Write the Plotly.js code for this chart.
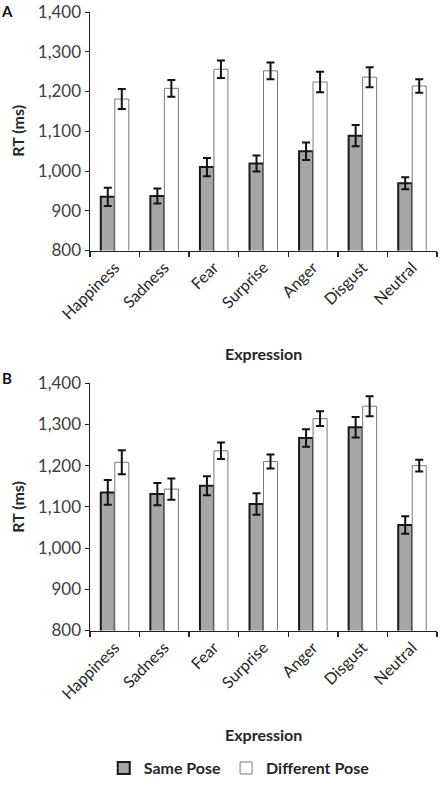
<!DOCTYPE html>
<html>
<head>
<meta charset="utf-8">
<script src="https://cdn.plot.ly/plotly-3.0.1.min.js"></script>
<style>html,body{margin:0;padding:0;background:#fff;}#chart{width:441px;height:789px;}</style>
</head>
<body>
<div id="chart"></div>
<script>
const categories = ["Happiness","Sadness","Fear","Surprise","Anger","Disgust","Neutral"];
const yTicks = [800,900,1000,1100,1200,1300,1400];
const yTickLabels = ["800","900","1,000","1,100","1,200","1,300","1,400"];

// Panel A
const aSame = [935, 937, 1010, 1019, 1050, 1089, 969];
const aSameErr = [23, 19, 23, 20, 22, 27, 15];
const aDiff = [1181, 1208, 1256, 1252, 1224, 1236, 1214];
const aDiffErr = [25, 21, 22, 21, 26, 25, 17];

// Panel B
const bSame = [1135, 1131, 1151, 1107, 1267, 1293, 1056];
const bSameErr = [30, 27, 23, 26, 21, 25, 21];
const bDiff = [1208, 1143, 1236, 1210, 1314, 1344, 1200];
const bDiffErr = [29, 26, 20, 17, 18, 24, 14];

const FONT = "Lato, 'Open Sans', sans-serif";
const sameStyle = {color:'#a6a6a6', line:{color:'#1a1a1a', width:2}};
const diffStyle = {color:'#ffffff', line:{color:'#7a7a7a', width:1}};
const errStyle = (arr) => ({type:'data', array:arr, visible:true, color:'#111', thickness:2, width:4});

const traces = [
  {type:'bar', name:'Same Pose', x:categories, y:aSame, error_y:errStyle(aSameErr), marker:sameStyle, xaxis:'x', yaxis:'y', legendgroup:'s', showlegend:true},
  {type:'bar', name:'Different Pose', x:categories, y:aDiff, error_y:errStyle(aDiffErr), marker:diffStyle, xaxis:'x', yaxis:'y', legendgroup:'d', showlegend:true},
  {type:'bar', name:'Same Pose', x:categories, y:bSame, error_y:errStyle(bSameErr), marker:sameStyle, xaxis:'x2', yaxis:'y2', legendgroup:'s', showlegend:false},
  {type:'bar', name:'Different Pose', x:categories, y:bDiff, error_y:errStyle(bDiffErr), marker:diffStyle, xaxis:'x2', yaxis:'y2', legendgroup:'d', showlegend:false}
];

const xAxisBase = {
  type:'category', showline:true, linecolor:'#222', linewidth:1.5,
  ticks:'outside', tickson:'boundaries', ticklen:5, tickcolor:'#222', tickwidth:1.5,
  tickangle:-45, tickfont:{family:FONT, size:16, color:'#262626'},
  showgrid:false, zeroline:false
};
const yAxisBase = {
  range:[800,1400], tickvals:yTicks, ticktext:yTickLabels,
  showline:true, linecolor:'#222', linewidth:1.5,
  ticks:'outside', ticklen:4, tickcolor:'#222', ticklabeloverflow:'allow',
  tickfont:{family:FONT, size:17, color:'#404040'},
  showgrid:false, zeroline:false
};

const layout = {
  width:441, height:789,
  margin:{l:90, r:4, t:12, b:5},
  paper_bgcolor:'#fff', plot_bgcolor:'#fff',
  barmode:'group', bargap:0.435, bargroupgap:0,
  font:{family:FONT, color:'#262626'},
  xaxis: Object.assign({}, xAxisBase, {anchor:'y', domain:[0,1]}),
  yaxis: Object.assign({}, yAxisBase, {anchor:'x', domain:[0.6878, 1.0]}),
  xaxis2: Object.assign({}, xAxisBase, {anchor:'y2', domain:[0,1]}),
  yaxis2: Object.assign({}, yAxisBase, {anchor:'x2', domain:[0.1904, 0.5142]}),
  showlegend:true,
  legend:{orientation:'h', x:0.43, xanchor:'center', y:0.0104, yanchor:'middle',
          font:{family:FONT, size:16, color:'#262626', weight:'bold'}, itemwidth:30,
          traceorder:'normal', bgcolor:'rgba(0,0,0,0)'},
  annotations:[
    {text:'<b>A</b>', xref:'paper', yref:'paper', x:-0.24, y:1.0013, xanchor:'center', yanchor:'middle', showarrow:false, font:{family:FONT, size:15, color:'#111'}},
    {text:'<b>B</b>', xref:'paper', yref:'paper', x:-0.24, y:0.5207, xanchor:'center', yanchor:'middle', showarrow:false, font:{family:FONT, size:15, color:'#111'}},
    {text:'<b>RT (ms)</b>', xref:'paper', yref:'paper', x:-0.2075, y:0.8446, xanchor:'center', yanchor:'middle', textangle:-90, showarrow:false, font:{family:FONT, size:16, color:'#262626'}},
    {text:'<b>RT (ms)</b>', xref:'paper', yref:'paper', x:-0.2075, y:0.3523, xanchor:'center', yanchor:'middle', textangle:-90, showarrow:false, font:{family:FONT, size:16, color:'#262626'}},
    {text:'<b>Expression</b>', xref:'paper', yref:'paper', x:0.5, y:0.5531, xanchor:'center', yanchor:'middle', showarrow:false, font:{family:FONT, size:16, color:'#262626'}},
    {text:'<b>Expression</b>', xref:'paper', yref:'paper', x:0.5, y:0.0544, xanchor:'center', yanchor:'middle', showarrow:false, font:{family:FONT, size:16, color:'#262626'}}
  ]
};

Plotly.newPlot('chart', traces, layout, {staticPlot:true, displayModeBar:false});
</script>
</body>
</html>
